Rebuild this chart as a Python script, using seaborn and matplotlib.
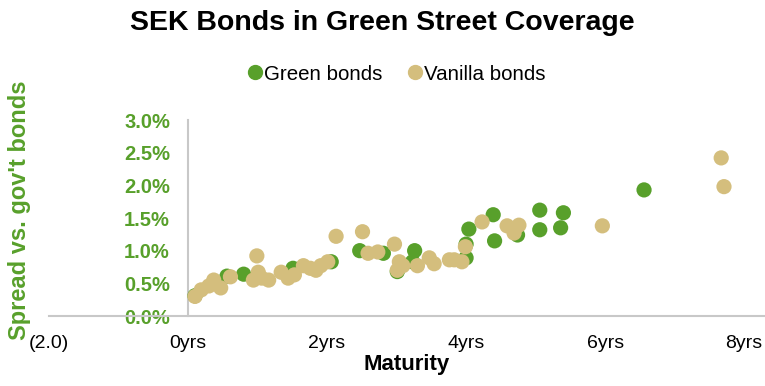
import numpy as np
import pandas as pd
import matplotlib
matplotlib.use("Agg")
import matplotlib.pyplot as plt
import seaborn as sns
from matplotlib.lines import Line2D

green_maturity = [0.10, 0.56, 0.80, 1.51, 2.06, 2.47, 2.81, 3.01, 3.26, 3.23, 4.00, 4.04, 4.00, 4.39, 4.41, 4.74, 5.06, 5.06, 5.36, 5.40, 6.56]
green_spread = [0.31, 0.61, 0.64, 0.73, 0.83, 1.00, 0.96, 0.68, 1.00, 0.83, 0.89, 1.33, 1.10, 1.55, 1.15, 1.24, 1.62, 1.32, 1.35, 1.58, 1.93]

vanilla_maturity = [0.10, 0.19, 0.30, 0.37, 0.47, 0.61, 0.99, 0.94, 1.01, 1.06, 1.16, 1.34, 1.44, 1.53, 1.66, 1.76, 1.84, 1.91, 2.01, 2.13, 2.51, 2.59, 2.73, 2.97, 3.04, 3.01, 3.09, 3.30, 3.47, 3.54, 3.76, 3.83, 3.94, 3.99, 4.23, 4.59, 4.70, 4.76, 4.69, 5.96, 7.67, 7.71]
vanilla_spread = [0.30, 0.40, 0.46, 0.55, 0.43, 0.60, 0.92, 0.55, 0.67, 0.58, 0.55, 0.67, 0.58, 0.63, 0.77, 0.73, 0.70, 0.77, 0.83, 1.22, 1.29, 0.96, 0.98, 1.10, 0.83, 0.70, 0.77, 0.77, 0.89, 0.80, 0.86, 0.86, 0.83, 1.06, 1.44, 1.38, 1.33, 1.39, 1.27, 1.38, 2.42, 1.98]

series_names = ["Green bonds", "Vanilla bonds"]
x_ticks = [-2, 0, 2, 4, 6, 8]
x_ticklabels = ["(2.0)", "0yrs", "2yrs", "4yrs", "6yrs", "8yrs"]
y_ticks = [0.0, 0.5, 1.0, 1.5, 2.0, 2.5, 3.0]
y_ticklabels = ["0.0%", "0.5%", "1.0%", "1.5%", "2.0%", "2.5%", "3.0%"]

df = pd.DataFrame({
    "Maturity": green_maturity + vanilla_maturity,
    "Spread": green_spread + vanilla_spread,
    "Type": [series_names[0]] * len(green_maturity) + [series_names[1]] * len(vanilla_maturity),
})

GREEN = "#58A02B"
TAN = "#D4BE7D"

sns.set_theme(style="white")
plt.rcParams['font.family'] = ['Liberation Sans', 'DejaVu Sans']
plt.rcParams['text.color'] = 'black'

fig = plt.figure(figsize=(7.65, 3.86), dpi=100)
ax = fig.add_axes([49/765, 70/386, 1 - 49/765, 196/386])

for s in ["top", "right"]:
    ax.spines[s].set_visible(False)
ax.spines["left"].set_position(("data", 0))
ax.spines["bottom"].set_position(("data", 0))
for s in ["left", "bottom"]:
    ax.spines[s].set_color("#C8C8C8")
    ax.spines[s].set_linewidth(1.5)

sns.scatterplot(data=df, x="Maturity", y="Spread", hue="Type",
                hue_order=series_names, palette={series_names[0]: GREEN, series_names[1]: TAN},
                s=120, edgecolor="none", linewidth=0, ax=ax, legend=False, zorder=3)

ax.set_xlim(-2, 8.3)
ax.set_ylim(0, 3.0)
ax.set_xticks(x_ticks)
ax.set_xticklabels(x_ticklabels)
ax.set_yticks(y_ticks)
ax.set_yticklabels(y_ticklabels)
ax.tick_params(axis="both", length=0)
ax.tick_params(axis="x", pad=14, labelsize=14, labelcolor="black")
ax.tick_params(axis="y", pad=13, labelsize=14.5, labelcolor=GREEN)
for lab in ax.get_yticklabels():
    lab.set_fontweight("bold")

ax.set_xlabel("Maturity", fontsize=16, fontweight="bold", color="black", labelpad=1)
ax.set_ylabel("")
fig.text(20/765, 1 - 210/386, "Spread vs. gov't bonds", rotation=90, fontsize=17,
         fontweight="bold", color=GREEN, ha="center", va="center")

fig.suptitle("SEK Bonds in Green Street Coverage", fontsize=20.5, fontweight="bold",
             color="black", y=0.975)

handles = [Line2D([], [], marker="o", linestyle="none", markersize=10, color=GREEN),
           Line2D([], [], marker="o", linestyle="none", markersize=10, color=TAN)]
fig.legend(handles, series_names, loc="center", bbox_to_anchor=(390/765, 1 - 74/386), ncol=2,
           frameon=False, fontsize=14.8, handletextpad=-0.55, columnspacing=0.55)

fig.savefig("out.png", dpi=100)
